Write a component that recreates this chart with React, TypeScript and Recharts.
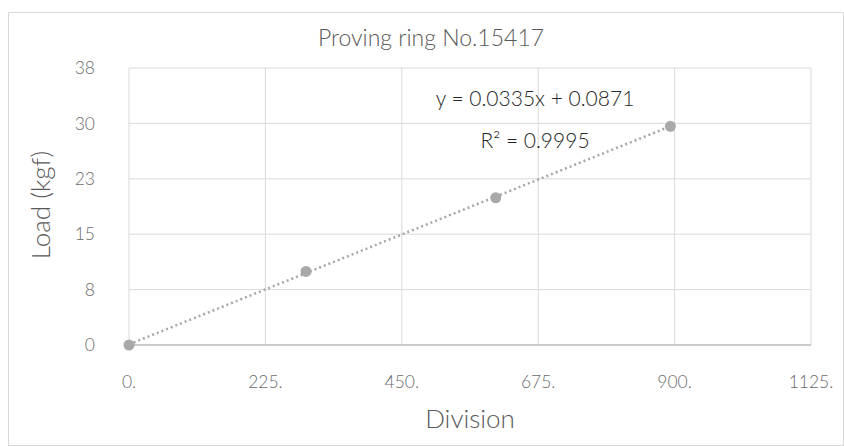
import { ScatterChart, Scatter, XAxis, YAxis, CartesianGrid } from 'recharts';

// readings from the calibration (division vs load)
const divisions = [0, 292, 605, 893];
const loads = [0, 10.1, 20.2, 30];

const xTicks = [0, 225, 450, 675, 900, 1125];
const yTicks = [0, 7.6, 15.2, 22.8, 30.4, 38];

// trendline coefficients as printed on the chart
const slope = 0.0335;
const intercept = 0.0871;
const equationText = 'y = 0.0335x + 0.0871';
const r2Text = 'R² = 0.9995';

const points = divisions.map((d, i) => ({ x: d, y: loads[i] }));
const trend = [divisions[0], divisions[divisions.length - 1]].map((d) => ({ x: d, y: slope * d + intercept }));

const FONT = 'Lato, "Open Sans", sans-serif';
const TXT = '#595959';

export default function App() {
  return (
    <div style={{ position: 'absolute', left: 0, top: 0, width: 844, height: 446, background: '#fff', fontFamily: FONT, fontWeight: 300 }}>
      <div style={{ position: 'absolute', left: 8, top: 12, width: 836, height: 434, border: '1px solid #d9d9d9', boxSizing: 'border-box' }} />
      <div style={{ position: 'absolute', left: 0, width: 862, top: 22, textAlign: 'center', fontSize: 23, color: TXT, lineHeight: '30px' }}>
        Proving ring No.15417
      </div>
      <ScatterChart width={844} height={446} margin={{ top: 68, right: 33, bottom: 71, left: 70 }}>
        <CartesianGrid stroke="#d9d9d9" />
        <XAxis
          type="number"
          dataKey="x"
          domain={[0, 1125]}
          ticks={xTicks}
          tickFormatter={(v) => `${v}.`}
          axisLine={{ stroke: '#bfbfbf', strokeWidth: 1.5 }}
          tickLine={false}
          tickMargin={25}
          height={30}
          tick={{ fill: '#6b6b6b', fontSize: 17.5, fontFamily: FONT, fontWeight: 300 }}
        />
        <YAxis
          type="number"
          dataKey="y"
          domain={[0, 38]}
          ticks={yTicks}
          tickFormatter={(v) => `${Math.round(v)}`}
          axisLine={false}
          tickLine={false}
          tickMargin={28}
          width={59}
          tick={{ fill: '#6b6b6b', fontSize: 17.5, fontFamily: FONT, fontWeight: 300 }}
        />
        <Scatter
          data={trend}
          line={{ stroke: '#a6a6a6', strokeWidth: 2.5, strokeDasharray: '2 3' }}
          shape={() => null}
          isAnimationActive={false}
        />
        <Scatter data={points} fill="#a9a9a9" isAnimationActive={false} shape={(p: any) => <circle cx={p.cx} cy={p.cy} r={5.5} fill="#a9a9a9" />} />
      </ScatterChart>
      <div style={{ position: 'absolute', left: 385, width: 300, top: 85, textAlign: 'center', fontSize: 21, color: '#262626', lineHeight: '26px' }}>{equationText}</div>
      <div style={{ position: 'absolute', left: 385, width: 300, top: 127, textAlign: 'center', fontSize: 21, color: '#262626', lineHeight: '26px' }}>{r2Text}</div>
      <div style={{ position: 'absolute', left: 370, width: 200, top: 402, textAlign: 'center', fontSize: 26, color: TXT, lineHeight: '32px' }}>Division</div>
      <div
        style={{
          position: 'absolute',
          left: 40,
          top: 205,
          transform: 'translate(-50%, -50%) rotate(-90deg)',
          whiteSpace: 'nowrap',
          fontSize: 26,
          color: TXT,
          lineHeight: '32px',
        }}
      >
        Load (kgf)
      </div>
    </div>
  );
}
